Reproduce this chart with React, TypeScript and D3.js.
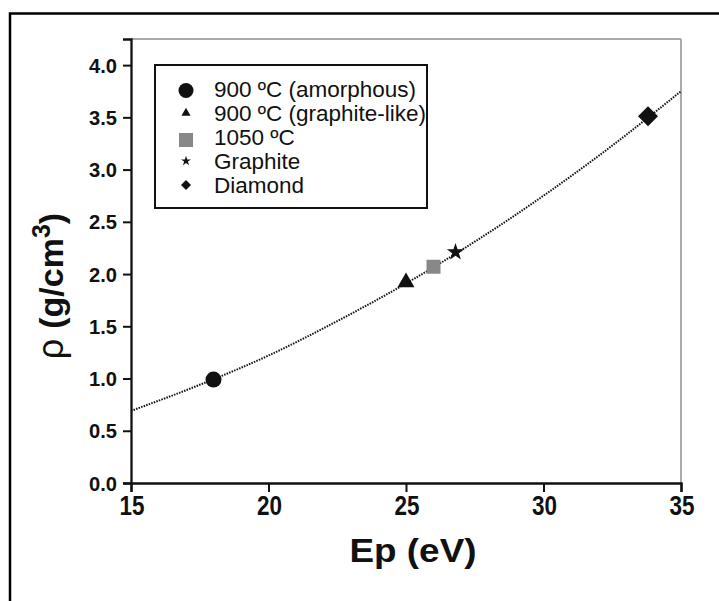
import React, { useEffect, useRef } from 'react';
import * as d3 from 'd3';

// measured points
const legendLabels = ['900 ºC (amorphous)', '900 ºC (graphite-like)', '1050 ºC', 'Graphite', 'Diamond'];
const pointEp = [18.0, 25.0, 26.0, 26.8, 33.8];
const pointRho = [0.99, 1.92, 2.07, 2.21, 3.51];

// dotted fit curve
const fitEp = [15, 17.5, 20, 22.5, 25, 27.5, 30, 32.5, 35];
const fitRho = [0.69, 0.94, 1.22, 1.55, 1.91, 2.31, 2.75, 3.23, 3.75];

const xTicks = [15, 20, 25, 30, 35];
const yTicks = [0, 0.5, 1.0, 1.5, 2.0, 2.5, 3.0, 3.5, 4.0];

export default function App() {
  const ref = useRef<SVGSVGElement>(null);

  useEffect(() => {
    const width = 719;
    const height = 601;
    const margin = { top: 39, right: 38, bottom: 118, left: 131 };
    const ink = '#111';
    const font = 'Liberation Sans, Arial, sans-serif';

    const svg = d3.select(ref.current).attr('viewBox', [0, 0, width, height]);
    svg.selectAll('*').remove();

    const x = d3.scaleLinear([15, 35], [margin.left, width - margin.right]);
    const y = d3.scaleLinear([0, 4.25], [height - margin.bottom, margin.top]);

    svg.append('rect').attr('width', width).attr('height', height).attr('fill', '#fff');

    // outer frame (only top and left show)
    svg
      .append('path')
      .attr('d', `M10,${height} V13.5 H${width}`)
      .attr('fill', 'none')
      .attr('stroke', '#000')
      .attr('stroke-width', 2.5);

    // top and right edges of the plot
    svg
      .append('line')
      .attr('x1', x(15)).attr('x2', x(35))
      .attr('y1', y(4.25)).attr('y2', y(4.25))
      .attr('stroke', '#555').attr('stroke-width', 1.2);
    svg
      .append('line')
      .attr('x1', x(35)).attr('x2', x(35))
      .attr('y1', y(4.25)).attr('y2', y(0))
      .attr('stroke', '#aaa').attr('stroke-width', 2);

    // fit curve
    const line = d3
      .line<number>()
      .x((d, i) => x(fitEp[i]))
      .y((d) => y(d))
      .curve(d3.curveMonotoneX);
    svg
      .append('path')
      .attr('d', line(fitRho))
      .attr('fill', 'none')
      .attr('stroke', '#111')
      .attr('stroke-width', 2)
      .attr('stroke-dasharray', '1.5,1.2');

    // x axis
    const xAxis = svg.append('g').attr('transform', `translate(0,${y(0)})`);
    xAxis
      .call(d3.axisBottom(x).tickValues(d3.range(15, 35.1, 2.5)).tickSize(5).tickFormat(() => ''))
      .call((g) => g.select('.domain').remove());
    xAxis
      .call(d3.axisBottom(x).tickValues(xTicks).tickSize(9).tickFormat(() => ''));
    xAxis.selectAll('line').attr('stroke', ink).attr('stroke-width', 2);
    xAxis.selectAll('.domain').attr('stroke', ink).attr('stroke-width', 2.3);
    svg
      .append('g')
      .selectAll('text')
      .data(xTicks)
      .join('text')
      .attr('x', (d) => x(d) + 1)
      .attr('y', 515)
      .attr('text-anchor', 'middle')
      .attr('font-family', font)
      .attr('font-weight', 'bold')
      .attr('font-size', 27)
      .attr('textLength', 25)
      .attr('lengthAdjust', 'spacingAndGlyphs')
      .attr('fill', ink)
      .text((d) => d);

    // y axis
    const yAxis = svg.append('g').attr('transform', `translate(${x(15)},0)`);
    yAxis
      .call(d3.axisLeft(y).tickValues(d3.range(0, 4.26, 0.25)).tickSize(5).tickFormat(() => ''))
      .call((g) => g.select('.domain').remove());
    yAxis.call(d3.axisLeft(y).tickValues(yTicks).tickSize(8).tickFormat(() => ''));
    yAxis.selectAll('line').attr('stroke', ink).attr('stroke-width', 2);
    yAxis.selectAll('.domain').attr('stroke', ink).attr('stroke-width', 2.3);
    svg
      .append('g')
      .selectAll('text')
      .data(yTicks)
      .join('text')
      .attr('x', 117)
      .attr('y', (d) => y(d) + 7.5)
      .attr('text-anchor', 'end')
      .attr('font-family', font)
      .attr('font-weight', 'bold')
      .attr('font-size', 21)
      .attr('textLength', 28)
      .attr('lengthAdjust', 'spacingAndGlyphs')
      .attr('fill', ink)
      .text((d) => d3.format('.1f')(d));

    // axis titles
    svg
      .append('text')
      .attr('x', 413)
      .attr('y', 562)
      .attr('text-anchor', 'middle')
      .attr('font-family', font)
      .attr('font-weight', 'bold')
      .attr('font-size', 33)
      .attr('textLength', 127)
      .attr('lengthAdjust', 'spacingAndGlyphs')
      .attr('fill', ink)
      .text('Ep (eV)');

    const yt = svg
      .append('text')
      .attr('transform', 'translate(63,286) rotate(-90)')
      .attr('text-anchor', 'middle')
      .attr('font-family', font)
      .attr('font-size', 34)
      .attr('fill', ink);
    yt.append('tspan').attr('font-weight', 'normal').attr('font-size', 36).text('ρ ');
    yt.append('tspan').attr('font-weight', 'bold').text('(g/cm');
    yt.append('tspan').attr('font-weight', 'bold').attr('font-size', 25).attr('dy', -13).text('3');
    yt.append('tspan').attr('font-weight', 'bold').attr('dy', 13).text(')');

    // marker shapes
    const shapes = [
      { type: d3.symbolCircle, big: 201, small: 177, fill: ink, rot: 0 },
      { type: d3.symbolTriangle, big: 125, small: 36, fill: ink, rot: 0 },
      { type: d3.symbolSquare, big: 196, small: 196, fill: '#888', rot: 0 },
      { type: d3.symbolStar, big: 95, small: 30, fill: ink, rot: 0 },
      { type: d3.symbolSquare, big: 200, small: 50, fill: ink, rot: 45 },
    ];

    svg
      .append('g')
      .selectAll('path')
      .data(pointEp)
      .join('path')
      .attr('transform', (d, i) => `translate(${x(d)},${y(pointRho[i])}) rotate(${shapes[i].rot})`)
      .attr('d', (d, i) => d3.symbol(shapes[i].type, shapes[i].big)())
      .attr('fill', (d, i) => shapes[i].fill);

    // legend
    const legend = svg.append('g');
    legend
      .append('rect')
      .attr('x', 155)
      .attr('y', 65)
      .attr('width', 272)
      .attr('height', 143)
      .attr('fill', '#fff')
      .attr('stroke', ink)
      .attr('stroke-width', 2);
    const rows = legend
      .selectAll('g')
      .data(legendLabels)
      .join('g')
      .attr('transform', (d, i) => `translate(0,${89 + i * 24})`);
    rows
      .append('path')
      .attr('transform', (d, i) => `translate(186,${i === 2 ? 3 : i === 0 ? 1.5 : 0}) rotate(${shapes[i].rot})`)
      .attr('d', (d, i) => d3.symbol(shapes[i].type, shapes[i].small)())
      .attr('fill', (d, i) => shapes[i].fill);
    rows
      .append('text')
      .attr('x', 214)
      .attr('y', 8)
      .attr('font-family', font)
      .attr('font-size', 22.5)
      .attr('fill', ink)
      .text((d) => d);
  }, []);

  return (
    <svg
      ref={ref}
      width={719}
      height={601}
      style={{ position: 'absolute', left: 0, top: 0, display: 'block' }}
    />
  );
}
